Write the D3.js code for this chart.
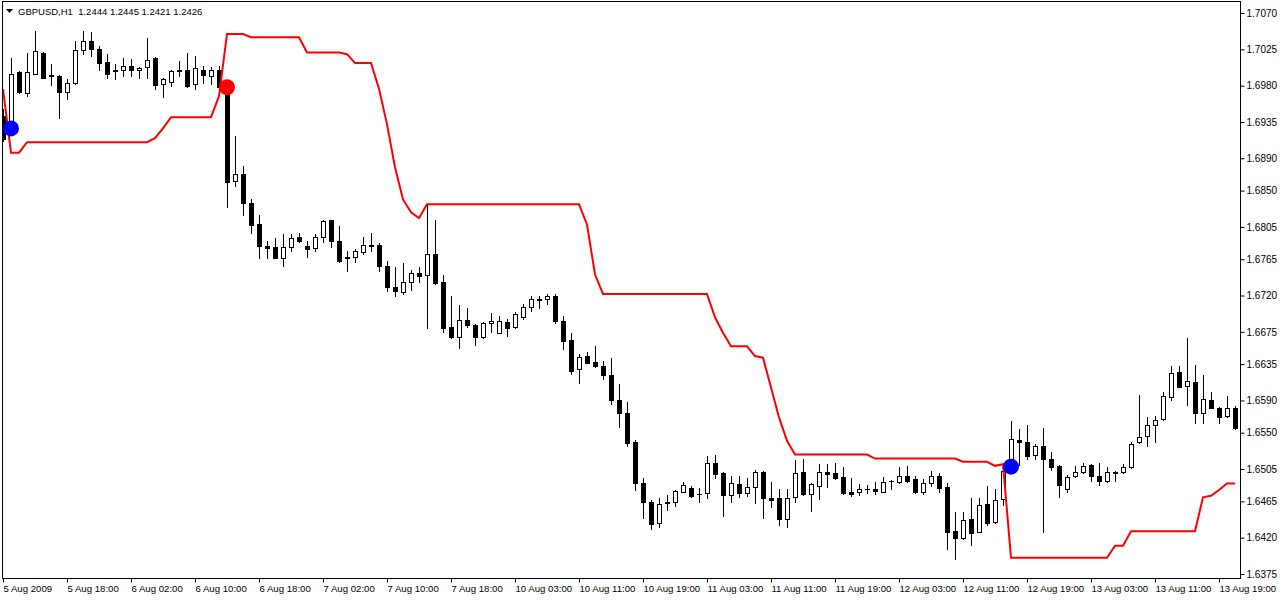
<!DOCTYPE html>
<html><head><meta charset="utf-8">
<script src="https://cdn.jsdelivr.net/npm/d3@7"></script>
<style>
body{margin:0;background:#fff;}
svg{display:block;font-family:"Liberation Sans",Arial,sans-serif;}
</style>
</head><body>
<svg id="chart" width="1280" height="600"></svg>
<script>
const chartTitle = "GBPUSD,H1  1.2444 1.2445 1.2421 1.2426";
const timeLabels = ["5 Aug 2009","5 Aug 18:00","6 Aug 02:00","6 Aug 10:00","6 Aug 18:00","7 Aug 02:00","7 Aug 10:00","7 Aug 18:00","10 Aug 03:00","10 Aug 11:00","10 Aug 19:00","11 Aug 03:00","11 Aug 11:00","11 Aug 19:00","12 Aug 03:00","12 Aug 11:00","12 Aug 19:00","13 Aug 03:00","13 Aug 11:00","13 Aug 19:00"];
const barsPerLabel = 8;
const priceTicks = [1.7070,1.7025,1.6980,1.6935,1.6890,1.6850,1.6805,1.6765,1.6720,1.6675,1.6635,1.6590,1.6550,1.6505,1.6465,1.6420,1.6375];

const open = [
1.6942,1.6926,1.6997,1.6971,1.6995,1.7021,1.6993,1.6992,1.6972,1.6983,
1.7024,1.7035,1.7026,1.7009,1.6998,1.6999,1.7004,1.6999,1.7003,1.7014,
1.6982,1.6985,1.7000,1.6999,1.6982,1.7000,1.6992,1.6999,1.6978,1.6862,
1.6871,1.6835,1.6808,1.6781,1.6780,1.6767,1.6780,1.6792,1.6781,1.6779,
1.6793,1.6813,1.6787,1.6766,1.6768,1.6774,1.6783,1.6782,1.6757,1.6731,
1.6724,1.6737,1.6748,1.6745,1.6772,1.6737,1.6681,1.6669,1.6690,1.6684,
1.6669,1.6686,1.6674,1.6687,1.6681,1.6694,1.6706,1.6716,1.6716,1.6719,
1.6689,1.6665,1.6629,1.6645,1.6638,1.6633,1.6621,1.6591,1.6575,1.6538,
1.6488,1.6464,1.6438,1.6464,1.6464,1.6477,1.6482,1.6474,1.6475,1.6512,
1.6500,1.6473,1.6487,1.6475,1.6483,1.6501,1.6469,1.6469,1.6443,1.6470,
1.6501,1.6474,1.6484,1.6501,1.6500,1.6495,1.6476,1.6476,1.6480,1.6480,
1.6477,1.6490,1.6489,1.6497,1.6493,1.6476,1.6488,1.6497,1.6483,1.6428,
1.6419,1.6443,1.6427,1.6462,1.6439,1.6468,1.6504,1.6541,1.6538,1.6522,
1.6533,1.6517,1.6509,1.6480,1.6496,1.6501,1.6510,1.6497,1.6490,1.6500,
1.6501,1.6507,1.6538,1.6546,1.6560,1.6567,1.6594,1.6625,1.6608,1.6613,
1.6575,1.6591,1.6581,1.6571,1.6581];
const high = [
1.6951,1.7014,1.6998,1.7021,1.7048,1.7022,1.7007,1.6993,1.6988,1.7035,
1.7048,1.7046,1.7029,1.7019,1.7007,1.7014,1.7013,1.7003,1.7039,1.7015,
1.6989,1.7000,1.7010,1.7020,1.7017,1.7004,1.7003,1.7004,1.6981,1.6918,
1.6881,1.6840,1.6820,1.6788,1.6791,1.6796,1.6796,1.6798,1.6787,1.6796,
1.6813,1.6814,1.6806,1.6775,1.6778,1.6792,1.6798,1.6785,1.6763,1.6755,
1.6760,1.6752,1.6755,1.6833,1.6814,1.6746,1.6719,1.6708,1.6704,1.6685,
1.6687,1.6698,1.6695,1.6691,1.6699,1.6709,1.6720,1.6719,1.6722,1.6722,
1.6695,1.6674,1.6648,1.6650,1.6657,1.6639,1.6643,1.6611,1.6588,1.6541,
1.6494,1.6467,1.6469,1.6473,1.6479,1.6489,1.6484,1.6482,1.6521,1.6523,
1.6501,1.6497,1.6497,1.6494,1.6504,1.6503,1.6489,1.6480,1.6480,1.6516,
1.6518,1.6488,1.6511,1.6511,1.6513,1.6507,1.6494,1.6487,1.6485,1.6489,
1.6495,1.6491,1.6508,1.6509,1.6497,1.6493,1.6503,1.6500,1.6488,1.6452,
1.6452,1.6469,1.6469,1.6484,1.6480,1.6509,1.6564,1.6555,1.6559,1.6536,
1.6556,1.6526,1.6510,1.6498,1.6509,1.6513,1.6511,1.6513,1.6507,1.6502,
1.6511,1.6539,1.6597,1.6570,1.6571,1.6601,1.6633,1.6633,1.6667,1.6634,
1.6621,1.6601,1.6582,1.6596,1.6583];
const low = [
1.6911,1.6920,1.6971,1.6967,1.6994,1.6989,1.6981,1.6940,1.6964,1.6982,
1.7019,1.7017,1.6999,1.6989,1.6988,1.6992,1.6992,1.6990,1.6989,1.6976,
1.6966,1.6979,1.6992,1.6978,1.6976,1.6983,1.6982,1.6973,1.6830,1.6856,
1.6820,1.6797,1.6766,1.6766,1.6766,1.6757,1.6775,1.6786,1.6768,1.6775,
1.6786,1.6780,1.6761,1.6750,1.6761,1.6771,1.6775,1.6750,1.6726,1.6720,
1.6722,1.6727,1.6737,1.6680,1.6734,1.6675,1.6667,1.6655,1.6681,1.6659,
1.6667,1.6675,1.6673,1.6670,1.6680,1.6691,1.6701,1.6704,1.6710,1.6686,
1.6654,1.6623,1.6612,1.6636,1.6631,1.6617,1.6585,1.6557,1.6533,1.6479,
1.6444,1.6431,1.6433,1.6454,1.6459,1.6476,1.6471,1.6464,1.6469,1.6494,
1.6447,1.6464,1.6470,1.6472,1.6463,1.6444,1.6458,1.6436,1.6433,1.6464,
1.6473,1.6453,1.6468,1.6483,1.6493,1.6474,1.6472,1.6473,1.6475,1.6474,
1.6476,1.6480,1.6488,1.6489,1.6475,1.6474,1.6484,1.6477,1.6406,1.6394,
1.6418,1.6411,1.6427,1.6436,1.6438,1.6461,1.6500,1.6510,1.6518,1.6518,
1.6427,1.6504,1.6470,1.6477,1.6495,1.6500,1.6490,1.6485,1.6489,1.6490,
1.6500,1.6506,1.6537,1.6533,1.6539,1.6566,1.6590,1.6607,1.6584,1.6562,
1.6562,1.6581,1.6562,1.6570,1.6555];
const close = [
1.6914,1.6995,1.6972,1.6997,1.7023,1.6990,1.6992,1.6972,1.6983,1.7024,
1.7035,1.7025,1.7008,1.6995,1.7000,1.7004,1.7000,1.7002,1.7012,1.6981,
1.6988,1.6998,1.6998,1.6979,1.7002,1.6993,1.6999,1.6978,1.6861,1.6870,
1.6835,1.6807,1.6781,1.6779,1.6767,1.6780,1.6791,1.6787,1.6778,1.6793,
1.6812,1.6787,1.6763,1.6768,1.6775,1.6782,1.6781,1.6756,1.6731,1.6725,
1.6737,1.6748,1.6744,1.6771,1.6735,1.6680,1.6669,1.6690,1.6684,1.6668,
1.6686,1.6689,1.6689,1.6680,1.6697,1.6706,1.6716,1.6714,1.6720,1.6689,
1.6664,1.6627,1.6644,1.6637,1.6633,1.6621,1.6590,1.6574,1.6537,1.6488,
1.6464,1.6437,1.6462,1.6463,1.6478,1.6485,1.6472,1.6474,1.6513,1.6499,
1.6473,1.6488,1.6475,1.6483,1.6501,1.6469,1.6467,1.6443,1.6469,1.6500,
1.6474,1.6487,1.6501,1.6499,1.6494,1.6475,1.6474,1.6480,1.6480,1.6478,
1.6489,1.6490,1.6497,1.6490,1.6476,1.6488,1.6497,1.6482,1.6427,1.6420,
1.6442,1.6426,1.6461,1.6438,1.6467,1.6503,1.6542,1.6539,1.6521,1.6534,
1.6518,1.6508,1.6485,1.6495,1.6501,1.6509,1.6497,1.6490,1.6501,1.6501,
1.6508,1.6536,1.6545,1.6560,1.6566,1.6595,1.6624,1.6607,1.6614,1.6575,
1.6592,1.6581,1.6570,1.6581,1.6556];
const stopLine = [
1.6976,1.6897,1.6897,1.6910,1.6910,1.6910,1.6910,1.6910,1.6910,1.6910,
1.6910,1.6910,1.6910,1.6910,1.6910,1.6910,1.6910,1.6910,1.6910,1.6915,
1.6927,1.6941,1.6941,1.6941,1.6941,1.6941,1.6941,1.6967,1.7044,1.7044,
1.7044,1.7040,1.7040,1.7040,1.7040,1.7040,1.7040,1.7040,1.7021,1.7021,
1.7021,1.7021,1.7021,1.7019,1.7008,1.7008,1.7008,1.6976,1.6932,1.6879,
1.6839,1.6823,1.6816,1.6833,1.6833,1.6833,1.6833,1.6833,1.6833,1.6833,
1.6833,1.6833,1.6833,1.6833,1.6833,1.6833,1.6833,1.6833,1.6833,1.6833,
1.6833,1.6833,1.6833,1.6808,1.6746,1.6722,1.6722,1.6722,1.6722,1.6722,
1.6722,1.6722,1.6722,1.6722,1.6722,1.6722,1.6722,1.6722,1.6722,1.6693,
1.6674,1.6657,1.6657,1.6657,1.6645,1.6643,1.6606,1.6569,1.6540,1.6523,
1.6523,1.6523,1.6523,1.6523,1.6523,1.6523,1.6523,1.6523,1.6523,1.6518,
1.6518,1.6518,1.6518,1.6518,1.6518,1.6518,1.6518,1.6518,1.6518,1.6518,
1.6514,1.6514,1.6514,1.6514,1.6509,1.6511,1.6395,1.6395,1.6395,1.6395,
1.6395,1.6395,1.6395,1.6395,1.6395,1.6395,1.6395,1.6395,1.6395,1.6410,
1.6410,1.6428,1.6428,1.6428,1.6428,1.6428,1.6428,1.6428,1.6428,1.6428,
1.6470,1.6472,1.6479,1.6487,1.6487];
const signalBar = [1, 28, 126];
const signalPrice = [1.6927, 1.6978, 1.6508];
const signalType = ["buy", "sell", "buy"];

const svg = d3.select("#chart");
const plot = {left: 2, top: 1, right: 1240, bottom: 578};
const x = d3.scaleLinear().domain([0, open.length - 1]).range([3, 1235]);
const y = d3.scaleLinear().domain([1.6375, 1.7070]).range([574, 13]);

svg.append("defs").append("clipPath").attr("id", "clip")
  .append("rect").attr("x", plot.left + 1).attr("y", plot.top + 1)
  .attr("width", plot.right - plot.left - 1).attr("height", plot.bottom - plot.top - 1);

const g = svg.append("g").attr("clip-path", "url(#clip)");
const idx = d3.range(open.length);

// wicks
g.append("g").selectAll("line").data(idx).join("line")
  .attr("x1", i => Math.round(x(i)) + 0.5).attr("x2", i => Math.round(x(i)) + 0.5)
  .attr("y1", i => Math.round(y(high[i])))
  .attr("y2", i => Math.round(y(low[i])) + 1)
  .attr("stroke", "#000").attr("stroke-width", 1);

// bodies
const bodies = g.append("g");
idx.forEach(i => {
  const cx = Math.round(x(i));
  const yo = Math.round(y(open[i])), yc = Math.round(y(close[i]));
  const t = Math.min(yo, yc), b = Math.max(yo, yc);
  if (close[i] < open[i] || b - t < 2) {
    bodies.append("rect").attr("x", cx - 2).attr("y", t)
      .attr("width", 5).attr("height", Math.max(1, b - t + 1)).attr("fill", "#000");
  } else {
    bodies.append("rect").attr("x", cx - 1.5).attr("y", t + 0.5)
      .attr("width", 4).attr("height", b - t)
      .attr("fill", "#fff").attr("stroke", "#000").attr("stroke-width", 1);
  }
});

// stop line
g.append("path").datum(stopLine)
  .attr("d", d3.line().x((d, i) => x(i)).y(d => y(d)))
  .attr("fill", "none").attr("stroke", "#ff0000").attr("stroke-width", 2);

// signals
g.append("g").selectAll("circle").data(signalBar).join("circle")
  .attr("cx", (d, k) => x(d)).attr("cy", (d, k) => y(signalPrice[k]))
  .attr("r", 8)
  .attr("fill", (d, k) => signalType[k] === "buy" ? "#0000ff" : "#ff0000");

// frame
svg.append("rect").attr("x", plot.left + 0.5).attr("y", plot.top + 0.5)
  .attr("width", plot.right - plot.left).attr("height", plot.bottom - plot.top)
  .attr("fill", "none").attr("stroke", "#000").attr("stroke-width", 1);

// price axis
const ya = svg.append("g").attr("transform", `translate(${plot.right + 0.5},0)`)
  .call(d3.axisRight(y).tickValues(priceTicks).tickSize(4).tickPadding(2).tickFormat(d3.format(".4f")));
ya.select(".domain").remove();
ya.selectAll("text").attr("font-family", "Liberation Sans, Arial, sans-serif").attr("font-size", 10).attr("fill", "#000");
ya.selectAll("line").attr("stroke", "#000");

// time axis
const xa = svg.append("g").attr("transform", `translate(0,${plot.bottom + 0.5})`)
  .call(d3.axisBottom(x).tickValues(timeLabels.map((d, k) => k * barsPerLabel))
    .tickSize(4).tickPadding(3).tickFormat((d, k) => timeLabels[k]));
xa.select(".domain").remove();
xa.selectAll("text").attr("text-anchor", "start").attr("x", 0)
  .attr("font-family", "Liberation Sans, Arial, sans-serif").attr("font-size", 9.6).attr("fill", "#000");
xa.selectAll("line").attr("stroke", "#000");

// title
svg.append("path").attr("d", "M6,9 L13,9 L9.5,13 Z").attr("fill", "#000");
svg.append("text").attr("x", 18).attr("y", 15)
  .attr("font-size", 9.5).attr("fill", "#000").style("white-space", "pre")
  .text(chartTitle);
</script>
</body></html>
